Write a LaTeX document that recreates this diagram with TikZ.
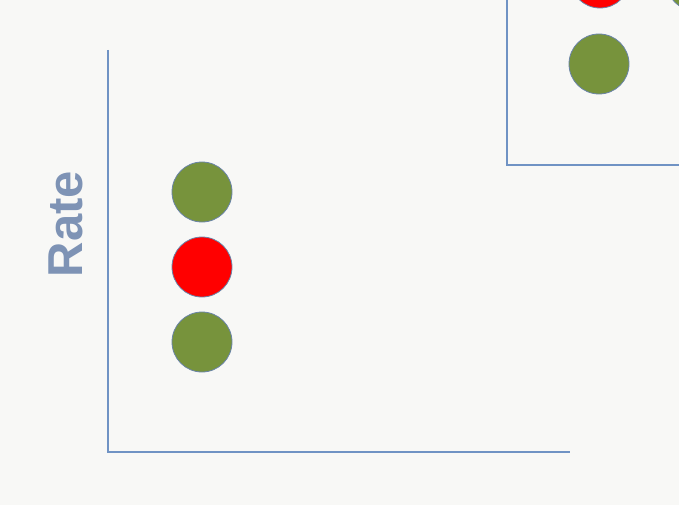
\documentclass[tikz,border=0pt]{standalone}
\usepackage{fontspec}
\setmainfont{Liberation Sans}
\definecolor{axisblue}{HTML}{7093C4}
\definecolor{dotgreen}{HTML}{77933C}
\definecolor{dotred}{HTML}{FF0000}
\definecolor{dotedge}{HTML}{6A84A8}
\definecolor{labelblue}{HTML}{7E93B5}
\definecolor{bg}{HTML}{F8F8F6}
\begin{document}
\begin{tikzpicture}[x=1pt,y=-1pt,
  axisline/.style={draw=axisblue,line width=2pt},
  gdot/.style={circle,fill=dotgreen,draw=dotedge,line width=0.8pt,minimum size=60pt,inner sep=0pt},
  rdot/.style={circle,fill=dotred,draw=dotedge,line width=0.8pt,minimum size=60pt,inner sep=0pt}]
\useasboundingbox (0,0) rectangle (679,505);
\fill[bg] (0,0) rectangle (679,505);
\begin{scope}
\clip (0,0) rectangle (679,505);
% inset chart at top right
\coordinate (it) at (507,-2);
\coordinate (ic) at (507,165);
\coordinate (ir) at (681,165);
\draw[axisline] (it) -- (ic) -- (ir);
\node[rdot] (ired) at (600,-22) {};
\node[gdot] (igreen) at (599,64) {};
\node[gdot] (igreen2) at (696,-19) {};
\end{scope}
% main chart
\coordinate (top) at (108,50);
\coordinate (corner) at (108,452);
\coordinate (right) at (570,452);
\draw[axisline] (top) -- (corner) -- (right);
\node[gdot] (g1) at (202,192) {};
\node[rdot] (r1) at (202,267) {};
\node[gdot] (g2) at (202,342) {};
\node[rotate=90,text=labelblue,font=\bfseries\fontsize{49}{49}\selectfont,inner sep=0pt] (lab) at (66,224) {Rate};
\end{tikzpicture}
\end{document}
